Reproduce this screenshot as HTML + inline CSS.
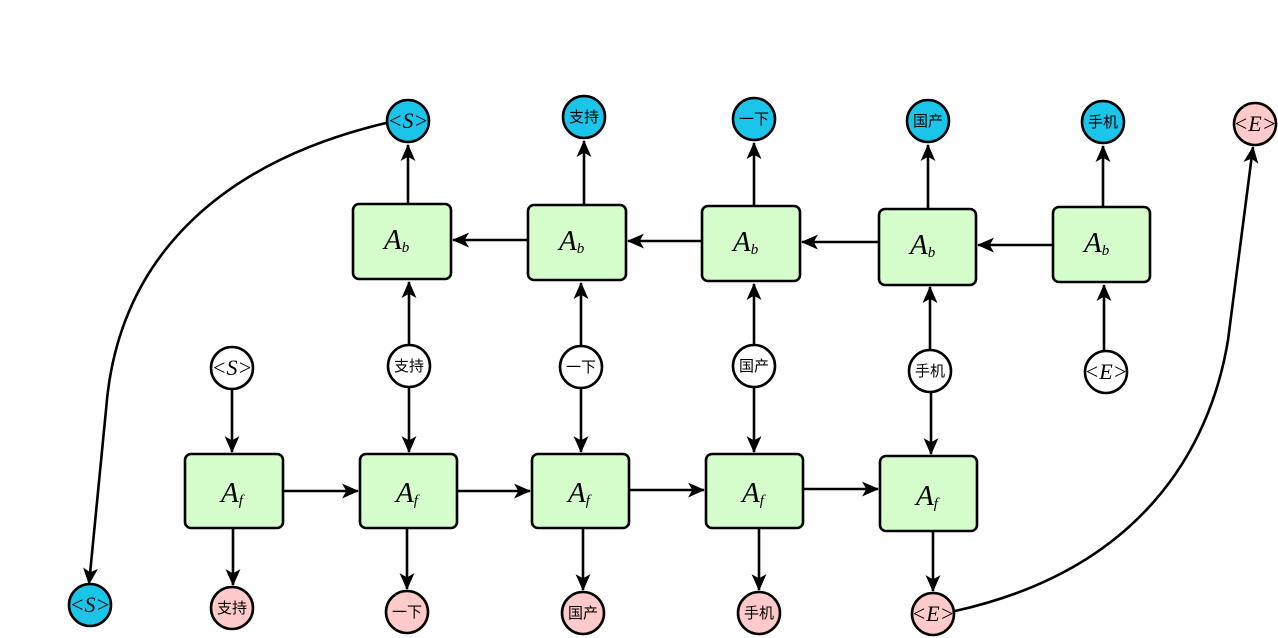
<!DOCTYPE html>
<html><head><meta charset="utf-8"><style>
html,body{margin:0;padding:0;background:#fff;}
svg{display:block;}
.box{fill:#d6fdcc;stroke:#000;stroke-width:2.6;}
.c{stroke:#000;stroke-width:2.6;}
.l{stroke:#000;stroke-width:2.6;fill:none;}
.A{font-family:"Liberation Serif",serif;font-style:italic;font-size:29px;}
.sub{font-family:"Liberation Serif",serif;font-style:italic;font-size:15px;}
.t{font-family:"Liberation Sans","Noto Sans CJK SC",sans-serif;font-size:15px;}
.s{font-family:"Liberation Serif",serif;font-style:italic;font-size:22px;}
</style></head><body>
<svg width="1278" height="638" viewBox="0 0 1278 638" xmlns="http://www.w3.org/2000/svg">
<defs><marker id="a" viewBox="0 0 16 14" refX="15" refY="7" markerWidth="17" markerHeight="15" markerUnits="userSpaceOnUse" orient="auto"><path d="M0,0 L16,7 L0,14 L4,7 Z" fill="#000"/></marker></defs>

<path class="l" d="M386,123 C230,160 118,250 106,410 L89,584" marker-end="url(#a)"/>
<path class="l" d="M955,611 C1140,570 1210,450 1228,340 L1253,147" marker-end="url(#a)"/>

<g>
<rect class="box" x="353" y="204" width="98" height="75" rx="6"/>
<rect class="box" x="528" y="205" width="98" height="75" rx="6"/>
<rect class="box" x="702" y="206" width="98" height="75" rx="6"/>
<rect class="box" x="879" y="209" width="97" height="76" rx="6"/>
<rect class="box" x="1053" y="207" width="97" height="75" rx="6"/>
</g>
<g class="A">
<text x="384" y="249">A<tspan class="sub" dy="3">b</tspan></text>
<text x="559" y="250">A<tspan class="sub" dy="3">b</tspan></text>
<text x="733" y="251">A<tspan class="sub" dy="3">b</tspan></text>
<text x="910" y="254">A<tspan class="sub" dy="3">b</tspan></text>
<text x="1084" y="252">A<tspan class="sub" dy="3">b</tspan></text>
</g>
<g>
<rect class="box" x="185" y="454" width="98" height="74" rx="6"/>
<rect class="box" x="360" y="454" width="97" height="74" rx="6"/>
<rect class="box" x="532" y="454" width="97" height="74" rx="6"/>
<rect class="box" x="706" y="454" width="97" height="74" rx="6"/>
<rect class="box" x="880" y="456" width="97" height="75" rx="6"/>
</g>
<g class="A">
<text x="221" y="502">A<tspan class="sub" dy="3">f</tspan></text>
<text x="396" y="502">A<tspan class="sub" dy="3">f</tspan></text>
<text x="568" y="502">A<tspan class="sub" dy="3">f</tspan></text>
<text x="742" y="502">A<tspan class="sub" dy="3">f</tspan></text>
<text x="916" y="505">A<tspan class="sub" dy="3">f</tspan></text>
</g>

<g class="l">
<line x1="408" y1="204" x2="408" y2="145" marker-end="url(#a)"/>
<line x1="584" y1="205" x2="584" y2="141" marker-end="url(#a)"/>
<line x1="754" y1="206" x2="754" y2="143" marker-end="url(#a)"/>
<line x1="928" y1="209" x2="928" y2="145" marker-end="url(#a)"/>
<line x1="1103" y1="207" x2="1103" y2="146" marker-end="url(#a)"/>
<line x1="528" y1="240" x2="453" y2="240" marker-end="url(#a)"/>
<line x1="702" y1="241" x2="628" y2="241" marker-end="url(#a)"/>
<line x1="879" y1="242" x2="802" y2="242" marker-end="url(#a)"/>
<line x1="1053" y1="245" x2="978" y2="245" marker-end="url(#a)"/>
<line x1="409" y1="344" x2="409" y2="282" marker-end="url(#a)"/>
<line x1="581" y1="345" x2="581" y2="283" marker-end="url(#a)"/>
<line x1="754" y1="344" x2="754" y2="284" marker-end="url(#a)"/>
<line x1="930" y1="349" x2="930" y2="287" marker-end="url(#a)"/>
<line x1="1104" y1="350" x2="1104" y2="285" marker-end="url(#a)"/>
<line x1="232" y1="390" x2="232" y2="452" marker-end="url(#a)"/>
<line x1="409" y1="388" x2="409" y2="452" marker-end="url(#a)"/>
<line x1="581" y1="389" x2="581" y2="452" marker-end="url(#a)"/>
<line x1="754" y1="388" x2="754" y2="452" marker-end="url(#a)"/>
<line x1="931" y1="393" x2="931" y2="454" marker-end="url(#a)"/>
<line x1="283" y1="491" x2="358" y2="491" marker-end="url(#a)"/>
<line x1="457" y1="491" x2="530" y2="491" marker-end="url(#a)"/>
<line x1="629" y1="490" x2="704" y2="490" marker-end="url(#a)"/>
<line x1="803" y1="489" x2="878" y2="489" marker-end="url(#a)"/>
<line x1="233" y1="528" x2="233" y2="585" marker-end="url(#a)"/>
<line x1="407" y1="528" x2="407" y2="589" marker-end="url(#a)"/>
<line x1="583" y1="528" x2="583" y2="590" marker-end="url(#a)"/>
<line x1="759" y1="528" x2="759" y2="590" marker-end="url(#a)"/>
<line x1="933" y1="531" x2="933" y2="591" marker-end="url(#a)"/>
</g>

<g class="c" fill="#1bc5ea">
<circle cx="408" cy="121" r="21"/><circle cx="584" cy="117" r="21"/><circle cx="754" cy="119" r="21"/><circle cx="928" cy="121" r="21"/><circle cx="1103" cy="122" r="21"/><circle cx="90" cy="605" r="21"/>
</g>
<g class="c" fill="#ffcaca">
<circle cx="1255" cy="124" r="21"/><circle cx="232" cy="608" r="21"/><circle cx="407" cy="612" r="21"/><circle cx="583" cy="613" r="21"/><circle cx="759" cy="613" r="21"/><circle cx="933" cy="614" r="21"/>
</g>
<g class="c" fill="#fff">
<circle cx="232" cy="368" r="21"/><circle cx="409" cy="366" r="21"/><circle cx="581" cy="367" r="21"/><circle cx="754" cy="366" r="21"/><circle cx="930" cy="371" r="21"/><circle cx="1106" cy="372" r="21"/>
</g>
<g class="s" text-anchor="middle">
<text x="408" y="128">&lt;S&gt;</text><text x="90" y="612">&lt;S&gt;</text><text x="232" y="375">&lt;S&gt;</text>
<text x="1255" y="131">&lt;E&gt;</text><text x="1106" y="379">&lt;E&gt;</text><text x="933" y="621">&lt;E&gt;</text>
</g>
<g class="t" text-anchor="middle">
<text x="584" y="122">支持</text><text x="754" y="124">一下</text><text x="928" y="126">国产</text><text x="1103" y="127">手机</text>
<text x="409" y="371">支持</text><text x="581" y="372">一下</text><text x="754" y="371">国产</text><text x="930" y="376">手机</text>
<text x="232" y="613">支持</text><text x="407" y="617">一下</text><text x="583" y="618">国产</text><text x="759" y="618">手机</text>
</g>
</svg>
</body></html>
